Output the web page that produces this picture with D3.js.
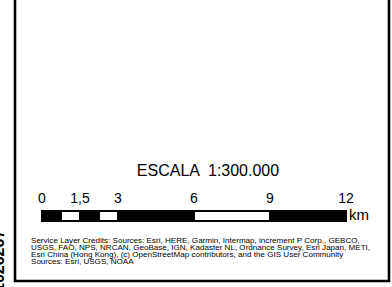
<!DOCTYPE html>
<html>
<head>
<meta charset="utf-8" />
<script src="https://d3js.org/d3.v7.min.js"></script>
<style>
  body { margin: 0; background: #fff; }
  svg { display: block; font-family: "Liberation Sans", Arial, sans-serif; }
</style>
</head>
<body>
<div id="chart"></div>
<script>
// scale bar values (km)
var tickValues = [0, 1.5, 3, 6, 9, 12];
var tickLabels = ["0", "1,5", "3", "6", "9", "12"];
var segmentBreaks = [0, 0.75, 1.5, 2.25, 3, 6, 9, 12];
var segmentFills = ["#000", "#fff", "#000", "#fff", "#000", "#fff", "#000"];
var unitLabel = "km";
var scaleTitle = "ESCALA  1:300.000";
var creditLines = [
  "Service Layer Credits: Sources: Esri, HERE, Garmin, Intermap, increment P Corp., GEBCO,",
  "USGS, FAO, NPS, NRCAN, GeoBase, IGN, Kadaster NL, Ordnance Survey, Esri Japan, METI,",
  "Esri China (Hong Kong), (c) OpenStreetMap contributors, and the GIS User Community",
  "Sources: Esri, USGS, NOAA"
];
var sideLabel = "1026267";

var width = 392, height = 287;

var svg = d3.select("#chart").append("svg")
    .attr("width", width)
    .attr("height", height);

// frame (left, bottom, right edges; top runs off the page)
svg.append("path")
    .attr("d", "M15,-5 V281 H389 V-5")
    .attr("fill", "none")
    .attr("stroke", "#000")
    .attr("stroke-width", 2.6);

// rotated number on the left edge, mostly off the page
svg.append("text")
    .attr("transform", "translate(4,292) rotate(-90)")
    .attr("font-size", 16)
    .attr("font-weight", "bold")
    .attr("fill", "#000")
    .text(sideLabel);

// title
svg.append("text")
    .attr("x", 208)
    .attr("y", 176)
    .attr("text-anchor", "middle")
    .attr("font-size", 16)
    .style("white-space", "pre")
    .text(scaleTitle);

var x = d3.scaleLinear().domain([0, 12]).range([42, 346]);

// bar segments
svg.append("g").selectAll("rect")
    .data(d3.pairs(segmentBreaks))
    .join("rect")
      .attr("x", function(d) { return x(d[0]); })
      .attr("y", 211)
      .attr("width", function(d) { return x(d[1]) - x(d[0]); })
      .attr("height", 10)
      .attr("fill", function(d, i) { return segmentFills[i]; })
      .attr("stroke", "#000")
      .attr("stroke-width", 2);

// tick labels
svg.append("g").selectAll("text")
    .data(tickValues)
    .join("text")
      .attr("x", function(d) { return x(d); })
      .attr("y", 203)
      .attr("text-anchor", "middle")
      .attr("font-size", 14)
      .text(function(d, i) { return tickLabels[i]; });

svg.append("text")
    .attr("x", x(12) + 3)
    .attr("y", 220)
    .attr("font-size", 15)
    .text(unitLabel);

// credits (slightly wide, tightly spaced lines)
svg.append("g").selectAll("text")
    .data(creditLines)
    .join("text")
      .attr("transform", function(d, i) { return "translate(31," + (242.5 + i * 7) + ") scale(1.17,1)"; })
      .attr("font-size", 6.9)
      .text(function(d) { return d; });
</script>
</body>
</html>
